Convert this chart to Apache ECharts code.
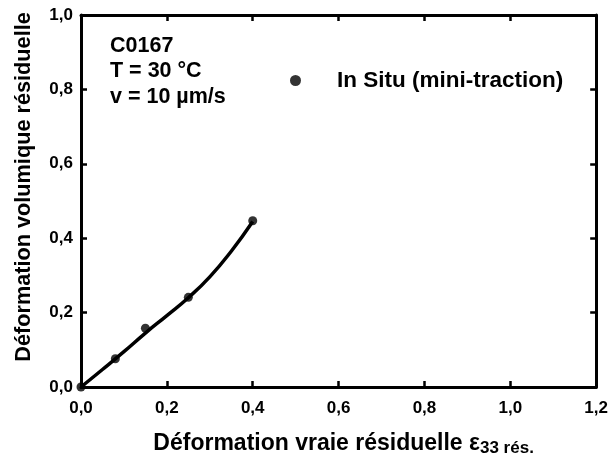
<!DOCTYPE html>
<html>
<head>
<meta charset="utf-8">
<script src="https://cdn.jsdelivr.net/npm/echarts@6/dist/echarts.min.js"></script>
<style>html,body{margin:0;padding:0;background:#fff;}#c{width:611px;height:465px;}</style>
</head>
<body>
<div id="c"></div>
<script>
// Data
var pointsX = [0.0, 0.08, 0.15, 0.25, 0.40];
var pointsY = [0.0, 0.076, 0.158, 0.241, 0.447];
var fitX = [0.0, 0.05, 0.10, 0.15, 0.20, 0.25, 0.30, 0.35, 0.40];
var fitY = [0.0, 0.047, 0.095, 0.145, 0.192, 0.240, 0.296, 0.365, 0.445];
var xTicks = [0, 0.2, 0.4, 0.6, 0.8, 1.0, 1.2];
var yTicks = [0, 0.2, 0.4, 0.6, 0.8, 1.0];
var seriesName = 'In Situ (mini-traction)';
var infoLines = ['C0167', 'T = 30 °C', 'v = 10 µm/s'];
var xTitle = 'Déformation vraie résiduelle ';
var xTitleSym = 'ε';
var xTitleSub = '33 rés.';
var yTitle = 'Déformation volumique résiduelle';

var FONT = '"Liberation Sans", Arial, Helvetica, sans-serif';
function fmt(v){ return v.toFixed(1).replace('.', ','); }

var chart = echarts.init(document.getElementById('c'), null, {renderer:'canvas'});
var axisCommon = {
  axisLine: {show:true, onZero:false, lineStyle:{color:'#000', width:3}},
  axisTick: {show:true, inside:true, length:6, lineStyle:{color:'#000', width:2.5}},
  splitLine: {show:false}
};
var pts = pointsX.map(function(x,i){return [x, pointsY[i]];});
var fit = fitX.map(function(x,i){return [x, fitY[i]];});

chart.setOption({
  animation:false,
  backgroundColor:'#fff',
  grid:{left:81, right:13, top:15, bottom:78},
  legend:{
    show:true, left:285, top:64, orient:'vertical',
    data:[{name:seriesName, icon:'circle'}],
    itemWidth:11, itemHeight:11,
    textStyle:{fontFamily:FONT, fontWeight:'bold', fontSize:22.5, color:'#000', padding:[0,0,0,31]}
  },
  xAxis:[
    Object.assign({}, axisCommon, {
      type:'value', position:'bottom', min:0, max:1.2, interval:0.2,
      axisLabel:{show:true, margin:13, color:'#000', fontFamily:FONT, fontWeight:'bold', fontSize:17,
        formatter:function(v){return fmt(v);}},
      name: '{m|' + xTitle + '}{e|' + xTitleSym + '}{s|' + xTitleSub + '}',
      nameLocation:'middle', nameGap:43,
      nameTextStyle:{
        padding:[0,0,0,10],
        rich:{
          m:{fontFamily:FONT, fontWeight:'bold', fontSize:23, color:'#000'},
          e:{fontFamily:FONT, fontWeight:'bold', fontSize:23, color:'#000'},
          s:{fontFamily:FONT, fontWeight:'bold', fontSize:17, color:'#000', padding:[10,0,0,0]}
        }
      }
    }),
    Object.assign({}, axisCommon, {
      type:'value', position:'top', min:0, max:1.2, interval:0.2,
      axisLabel:{show:false}
    })
  ],
  yAxis:[
    Object.assign({}, axisCommon, {
      type:'value', position:'left', min:0, max:1.0, interval:0.2,
      axisLabel:{show:true, margin:8, color:'#000', fontFamily:FONT, fontWeight:'bold', fontSize:17,
        formatter:function(v){return fmt(v);}},
      name: yTitle, nameLocation:'middle', nameGap:46,
      nameTextStyle:{fontFamily:FONT, fontWeight:'bold', fontSize:21.7, color:'#000', padding:[0,0,0,28]}
    }),
    Object.assign({}, axisCommon, {
      type:'value', position:'right', min:0, max:1.0, interval:0.2,
      axisLabel:{show:false}
    })
  ],
  graphic: infoLines.map(function(t, i){
    return {type:'text', left:110, top:35 + i*25.5,
      style:{text:t, fontFamily:FONT, fontWeight:'bold', fontSize:21.5, fill:'#000'}};
  }),
  series:[
    {name:'fit', type:'line', data:fit, smooth:true, showSymbol:false, symbol:'none',
     lineStyle:{color:'#000', width:3.5}, silent:true, z:2},
    {name:seriesName, type:'scatter', data:pts, symbol:'circle', symbolSize:9,
     itemStyle:{color:'#000'}, z:3}
  ]
});
</script>
</body>
</html>
